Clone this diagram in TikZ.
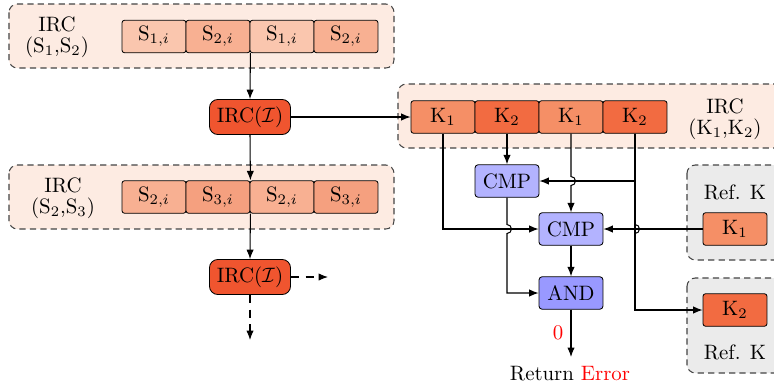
\documentclass[tikz,border=0pt]{standalone}
\usetikzlibrary{calc,arrows.meta}
\definecolor{grpfill}{HTML}{FDEBE2}
\definecolor{reffill}{HTML}{EBEBEB}
\definecolor{sone}{HTML}{FAC6AE}
\definecolor{stwo}{HTML}{F8B092}
\definecolor{sthree}{HTML}{F5A07F}
\definecolor{kone}{HTML}{F58F66}
\definecolor{ktwo}{HTML}{F26B41}
\definecolor{ircc}{HTML}{F0552F}
\definecolor{cmpc}{HTML}{B3B3FF}
\definecolor{andc}{HTML}{9999FF}
\definecolor{dashc}{HTML}{444444}
\tikzset{
  grp/.style={draw=dashc, dash pattern=on 3pt off 2pt, rounded corners=4pt, line width=0.5pt},
  cell/.style={draw, rounded corners=1.2pt, minimum width=30.7pt, minimum height=15.6pt, inner sep=0pt, line width=0.4pt},
  ircbox/.style={draw, rounded corners=4pt, fill=ircc, minimum width=38.9pt, minimum height=16.8pt, inner sep=0pt, line width=0.4pt},
  opbox/.style={draw, rounded corners=1.5pt, minimum width=30.7pt, minimum height=15.6pt, inner sep=0pt, line width=0.4pt},
  conn/.style={line width=0.5pt},
  arr/.style={conn, -{Latex[length=4.5pt,width=3.5pt]}},
}
\begin{document}
\begin{tikzpicture}[x=0.48pt,y=-0.48pt]
\useasboundingbox (0,0) rectangle (774,385);
% groups
\draw[grp, fill=grpfill] (9,4) rectangle (394,68);
\draw[grp, fill=grpfill] (9,165) rectangle (394,229);
\draw[grp, fill=grpfill] (398,84) rectangle (800,148);
\draw[grp, fill=reffill] (687,165) rectangle (800,260);
\draw[grp, fill=reffill] (687,278) rectangle (800,373);
% group labels
\node[align=center, inner sep=0pt] (lab1) at (57,37) {IRC\\[-2pt](S$_1$,S$_2$)};
\node[align=center, inner sep=0pt] (lab2) at (63,198) {IRC\\[-2pt](S$_2$,S$_3$)};
\node[align=center, inner sep=0pt] (lab3) at (725,119) {IRC\\[-2pt](K$_1$,K$_2$)};
\node[inner sep=0pt] (lab4) at (735,192) {Ref. K};
\node[inner sep=0pt] (lab5) at (735,352) {Ref. K};
% S rows
\node[cell, fill=sone] (a1) at (154,36.5) {S$_{1,i}$};
\node[cell, fill=stwo] (a2) at (218,36.5) {S$_{2,i}$};
\node[cell, fill=sone] (a3) at (282,36.5) {S$_{1,i}$};
\node[cell, fill=stwo] (a4) at (346,36.5) {S$_{2,i}$};
\node[cell, fill=stwo] (b1) at (154,197) {S$_{2,i}$};
\node[cell, fill=sthree] (b2) at (218,197) {S$_{3,i}$};
\node[cell, fill=stwo] (b3) at (282,197) {S$_{2,i}$};
\node[cell, fill=sthree] (b4) at (346,197) {S$_{3,i}$};
% IRC nodes
\node[ircbox] (irc1) at (250,117) {IRC($\mathcal{I}$)};
\node[ircbox] (irc2) at (250,277) {IRC($\mathcal{I}$)};
% K row
\node[cell, fill=kone] (k1) at (443,117) {K$_1$};
\node[cell, fill=ktwo] (k2) at (507,117) {K$_2$};
\node[cell, fill=kone] (k3) at (571,117) {K$_1$};
\node[cell, fill=ktwo] (k4) at (635,117) {K$_2$};
% ops
\node[opbox, fill=cmpc] (cmp1) at (507,181) {CMP};
\node[opbox, fill=cmpc] (cmp2) at (571,229) {CMP};
\node[opbox, fill=andc] (and) at (571,293) {AND};
% ref keys
\node[cell, fill=kone] (rk1) at (735,229) {K$_1$};
\node[cell, fill=ktwo] (rk2) at (735,310) {K$_2$};
% output
\node[inner sep=0pt, anchor=base] (ret) at (570,380) {Return \textcolor{red}{Error}};
\coordinate (outend) at (571,357);
\node[text=red, inner sep=0pt] (zero) at (558,333) {0};
\coordinate (dr) at (328,277);
\coordinate (dd) at (250,340);
% connectors left column
\draw[arr] (a2.south east) -- (irc1.north);
\draw[arr] (irc1.south) -- (b2.north east);
\draw[arr] (b2.south east) -- (irc2.north);
\draw[arr, dash pattern=on 4pt off 3pt] (irc2.east) -- (dr);
\draw[arr, dash pattern=on 4pt off 3pt] (irc2.south) -- (dd);
\draw[arr] (irc1.east) -- (k1.west);
% K connectors
\draw[arr] (k1.south) |- (cmp2.west);
\draw[arr] (k2.south) -- (cmp1.north);
\draw[arr] (k4.south) |- (rk2.west);
\draw[arr] (k4.south |- cmp1.east) -- (cmp1.east);
\draw[arr] (rk1.west) -- (cmp2.east);
% with jumps
\draw[arr] (k3.south) -- ($(k3.south |- cmp1.east)+(0,-4.5)$) arc[start angle=-90, end angle=90, radius=4.5] -- (cmp2.north);
\draw[conn] (k4.south) -- ($(k4.south |- cmp2.east)+(0,-4.5)$) arc[start angle=-90, end angle=90, radius=4.5] -- (k4.south |- rk2.west);
\draw[arr] (cmp1.south) -- ($(cmp1.south |- cmp2.west)+(0,-4.5)$) arc[start angle=-90, end angle=90, radius=4.5] |- (and.west);
\draw[arr] (cmp2.south) -- (and.north);
\draw[arr] (and.south) -- (outend);
\end{tikzpicture}
\end{document}
